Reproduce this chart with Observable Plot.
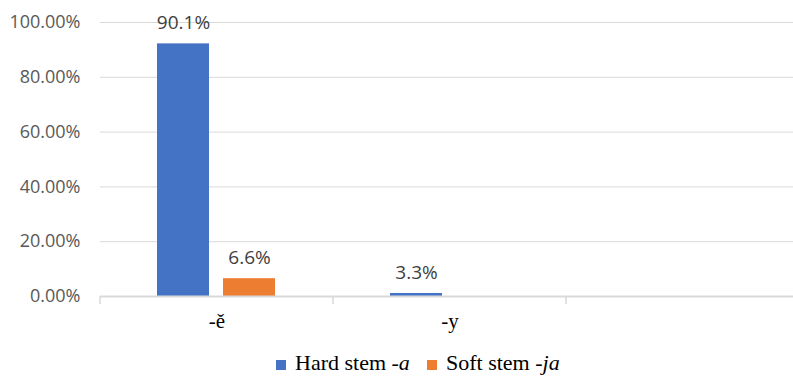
<!DOCTYPE html>
<html>
<head>
<meta charset="utf-8">
<script src="https://cdn.jsdelivr.net/npm/d3@7"></script>
<script src="https://cdn.jsdelivr.net/npm/@observablehq/plot@0.6"></script>
<style>
  html, body { margin: 0; padding: 0; background: #fff; overflow: hidden; }
  #chart svg { overflow: visible; display: block; }
  #legend { position: relative; height: 30px; margin-top: 5px; font-family: "Liberation Serif", serif; font-size: 22px; color: #000; line-height: 26px; }
  .item { position: absolute; top: 0; display: flex; align-items: baseline; }
  .sw { display: inline-block; width: 10px; height: 10px; margin-right: 9px; }
</style>
</head>
<body>
<div id="chart"></div>
<div id="legend"></div>
<script>
const categories = ["-ě", "-y", "(blank)"];
const series = ["Hard stem -a", "Soft stem -ja"];
const hardValues = [0.922, 0.011, 0];
const softValues = [0.065, 0, 0];
const hardLabels = ["90.1%", "3.3%", ""];
const softLabels = ["6.6%", "", ""];
const yTicks = [0, 0.2, 0.4, 0.6, 0.8, 1.0];
const colors = ["#4472C4", "#ED7D31"];

const rows = [];
categories.forEach((c, i) => {
  rows.push({cat: c, series: series[0], value: hardValues[i], label: hardLabels[i]});
  rows.push({cat: c, series: series[1], value: softValues[i], label: softLabels[i]});
});

const plot = Plot.plot({
  width: 793,
  height: 345,
  marginLeft: 100,
  marginRight: -6,
  marginTop: 22,
  marginBottom: 49,
  style: {background: "#fff", overflow: "visible"},
  fx: {domain: categories, padding: 0, axis: null},
  x: {domain: series, paddingInner: 0.212, paddingOuter: 0.871, axis: null},
  y: {domain: [0, 1], axis: null},
  color: {domain: series, range: colors},
  marks: [
    Plot.ruleY(yTicks.slice(1), {stroke: "#d9d9d9", strokeWidth: 1}),
    Plot.barY(rows, {fx: "cat", x: "series", y: "value", fill: "series"}),
    Plot.ruleY([0], {stroke: "#d9d9d9", strokeWidth: 2}),
    Plot.text(rows.filter(d => d.label), {fx: "cat", x: "series", y: "value", text: "label", dy: -21,
      fontFamily: "Open Sans", fontSize: 19, fill: "#404040"}),
    Plot.axisY({ticks: yTicks, tickFormat: d3.format(".2%"), tickSize: 0, tickPadding: 20, label: null,
      fontFamily: "Open Sans", fontSize: 18, fill: "#595959", facetAnchor: "left"}),
    Plot.axisFx({anchor: "bottom", tickSize: 0, tickPadding: 17, tickFormat: d => d === "(blank)" ? "" : d,
      fontFamily: "Liberation Serif", fontSize: 21, fill: "#000", label: null})
  ]
});
document.getElementById("chart").appendChild(plot);

// category separators below the axis, from the fx band scale
const fx = plot.scale("fx");
const y = plot.scale("y");
const y0 = y.apply(0);
const svg = d3.select(plot);
const edges = categories.map(c => fx.apply(c)).concat([fx.apply(categories[categories.length - 1]) + fx.step]);
svg.append("g").selectAll("line").data(edges).join("line")
  .attr("x1", d => d).attr("x2", d => d)
  .attr("y1", y0).attr("y2", y0 + 8)
  .attr("stroke", "#d9d9d9").attr("stroke-width", 1.5);

// legend
const legend = d3.select("#legend");
const legendItems = [
  {color: colors[0], text: "Hard stem ", ital: "-a", left: 276},
  {color: colors[1], text: "Soft stem ", ital: "-ja", left: 427}
];
legendItems.forEach(it => {
  const div = legend.append("div").attr("class", "item").style("left", it.left + "px");
  div.append("span").attr("class", "sw").style("background", it.color);
  const t = div.append("span");
  t.append("span").text(it.text);
  t.append("i").text(it.ital);
});
</script>
</body>
</html>
